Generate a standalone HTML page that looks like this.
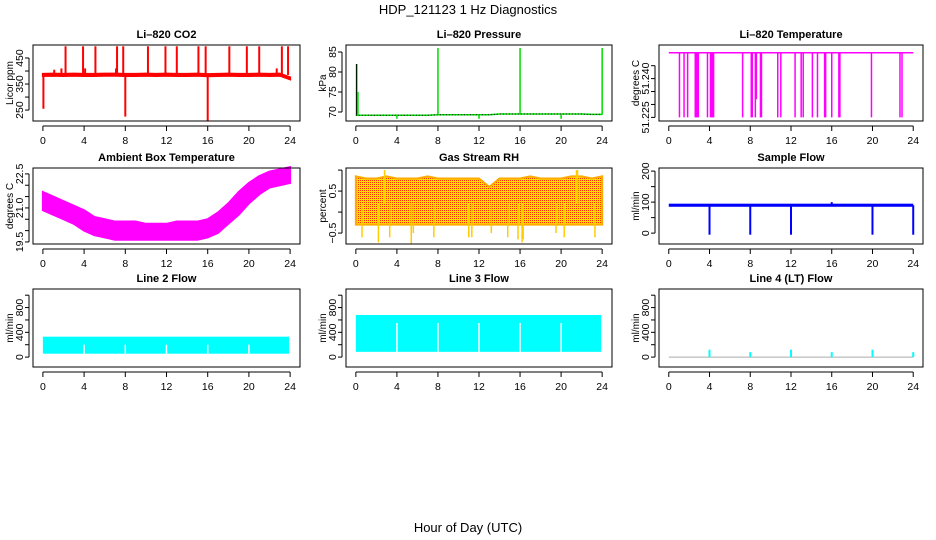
<!DOCTYPE html>
<html><head><meta charset="utf-8"><style>
body{margin:0;background:#fff}
svg{display:block;font-family:"Liberation Sans",sans-serif}
</style></head><body>
<svg id="c" width="936" height="540">
<defs><pattern id="rhpat" width="2" height="2" patternUnits="userSpaceOnUse"><rect width="2" height="2" fill="#ffdd00"/><rect width="1" height="1" fill="#ff3000"/></pattern></defs>
<text x="468" y="14" text-anchor="middle" font-size="13">HDP_121123  1 Hz Diagnostics</text>
<text x="468" y="532" text-anchor="middle" font-size="13">Hour of Day (UTC)</text>
</svg>
<script>
const hours = [0,1,2,3,4,5,6,7,8,9,10,11,12,13,14,15,16,17,18,19,20,21,22,23,24];
const xTicks = [0,4,8,12,16,20,24];
// CO2
const co2Base = [385,386,385,386,385,385,386,386,385,385,386,385,386,385,385,386,384,385,386,385,385,386,385,386,372];
const co2SpikeHours = [0.05,1.1,1.8,2.2,3.9,4.1,5.1,7.1,7.2,7.8,8.0,10.2,11.9,13.0,15.1,15.8,16.0,18.1,19.8,21.0,22.7,23.2,23.8];
const co2SpikeVals = [255,405,410,495,495,410,495,410,495,495,225,495,495,495,495,495,208,495,495,495,410,495,495];
// Pressure
const presBase = [69.2,69.2,69.2,69.2,69.2,69.2,69.2,69.2,69.3,69.3,69.3,69.3,69.3,69.3,69.5,69.5,69.5,69.5,69.5,69.5,69.5,69.5,69.5,69.4,69.4];
const presSpikeHours = [0.1,0.2,4,8,12,16,20,24];
const presSpikeVals = [82,75,68.3,86,68.3,86,68.3,86];
// Li-820 temperature
const tempBase = 51.250;
const tempDropHours = [1.05,1.5,1.85,2.6,2.7,2.8,2.9,3.8,4.1,4.2,4.3,4.4,7.25,8.1,8.2,8.5,8.6,9.0,9.1,10.7,11.0,12.4,13.0,13.2,14.1,14.6,15.3,15.4,16.0,16.7,16.8,19.9,22.7,22.9];
const tempDropVals = [51.225,51.225,51.225,51.225,51.225,51.225,51.225,51.225,51.225,51.225,51.225,51.225,51.225,51.225,51.225,51.225,51.232,51.225,51.225,51.225,51.225,51.225,51.225,51.225,51.225,51.225,51.225,51.225,51.225,51.225,51.225,51.225,51.225,51.225];
// Ambient box temperature
const ambLow = [20.9,20.7,20.5,20.3,20.0,19.8,19.7,19.6,19.6,19.6,19.6,19.6,19.6,19.6,19.6,19.6,19.7,19.9,20.3,20.7,21.2,21.6,21.9,22.0,22.1];
const ambHigh = [21.7,21.5,21.3,21.1,20.9,20.6,20.5,20.4,20.4,20.4,20.3,20.3,20.3,20.4,20.4,20.4,20.5,20.8,21.2,21.7,22.1,22.4,22.6,22.7,22.8];
// Gas stream RH
const rhLow = [-0.3,-0.3,-0.3,-0.3,-0.3,-0.3,-0.3,-0.3,-0.3,-0.3,-0.3,-0.3,-0.3,-0.3,-0.3,-0.3,-0.3,-0.3,-0.3,-0.3,-0.3,-0.3,-0.3,-0.3,-0.3];
const rhHigh = [0.85,0.8,0.8,0.85,0.8,0.8,0.8,0.85,0.8,0.8,0.8,0.8,0.8,0.6,0.8,0.8,0.8,0.85,0.8,0.8,0.8,0.85,0.85,0.8,0.85];
const rhSpikeHours = [0.6,2.2,2.8,3.3,5.4,5.6,7.6,11.0,11.3,13.2,14.8,15.8,16.2,16.3,19.5,20.3,21.5,21.6,23.3];
const rhSpikeVals = [-0.6,-0.72,1.0,-0.6,-0.75,-0.5,-0.6,-0.6,-0.6,-0.5,-0.6,-0.65,-0.72,-0.65,-0.5,-0.6,1.0,1.0,-0.6];
// Sample flow
const sfLow = 85, sfHigh = 95;
const sfSpikeHours = [4,8,12,16,20,24];
const sfSpikeVals = [-5,-5,-5,100,-5,-5];
// Line flows
const l2Low = 55, l2High = 330;
const l3Low = 85, l3High = 680;
const flowGapHours = [4,8,12,16,20];
const l4SpikeHours = [4,8,12,16,20,24];
const l4SpikeVals = [120,80,120,80,120,80];

const svg = document.getElementById('c');
const NS = 'http://www.w3.org/2000/svg';
function mk(tag, attrs, parent){const e=document.createElementNS(NS,tag);for(const k in attrs)e.setAttribute(k,attrs[k]);(parent||svg).appendChild(e);return e;}

function panel(o){
  const g = mk('g',{});
  
  
  const px0 = o.L + (o.R-o.L)*0.04/1.08, px1 = o.R - (o.R-o.L)*0.04/1.08;
  const X = h => px0 + (px1-px0)*h/24;
  const Y = v => o.B - (o.B-o.T)*(v-o.ymin)/(o.ymax-o.ymin);
  o.draw(g, X, Y);
  const box = mk('rect',{x:o.L,y:o.T,width:o.R-o.L,height:o.B-o.T,fill:'none',stroke:'#000','stroke-width':1},g);
  
  
  const t = mk('text',{x:(o.L+o.R)/2,y:o.T-7,'text-anchor':'middle','font-size':11,'font-weight':'bold'},g);
  t.textContent = o.title;
  
  
  // x axis
  mk('line',{x1:X(0),x2:X(24),y1:o.B+5,y2:o.B+5,stroke:'#000'},g);
  xTicks.forEach(h=>{
    mk('line',{x1:X(h),x2:X(h),y1:o.B+5,y2:o.B+10,stroke:'#000'},g);
    const tl = mk('text',{x:X(h),y:o.B+23,'text-anchor':'middle','font-size':10.5},g);
    tl.textContent = h;
    
    
  });
  // y axis
  const ax = o.L-4;
  mk('line',{x1:ax,x2:ax,y1:Y(o.yt[0]),y2:Y(o.yt[o.yt.length-1]),stroke:'#000'},g);
  o.yt.forEach((v,i)=>{
    mk('line',{x1:ax-4,x2:ax,y1:Y(v),y2:Y(v),stroke:'#000'},g);
    if(o.yl[i]!==''){
      const tl = mk('text',{x:0,y:0,'text-anchor':'middle','font-size':10.5,transform:`translate(${o.L-10},${Y(v)}) rotate(-90)`},g);
      tl.textContent = o.yl[i];
      
      
    }
  });
  const yt = mk('text',{x:0,y:0,'text-anchor':'middle','font-size':10,transform:`translate(${o.L-20},${(o.T+o.B)/2}) rotate(-90)`},g);
  yt.textContent = o.ylab;
  
  
}
function spikes(g,X,Y,hs,vs,base,color,w){hs.forEach((h,i)=>{const l=mk('line',{x1:X(h),x2:X(h),y1:Y(base),y2:Y(vs[i]),stroke:color,'stroke-width':w||1.5},g);});}
function band(g,X,Y,lo,hi,fill){
  let d='M'+hours.map((h,i)=>X(h)+','+Y(hi[i])).join('L');
  for(let i=hours.length-1;i>=0;i--) d+='L'+X(hours[i])+','+Y(lo[i]);
  const p=mk('path',{d:d+'Z',fill:fill,stroke:fill==='url(#rhpat)'?'#ffaa00':fill,'stroke-width':2},g);
  
}
const C1=[33,300],C2=[346,612],C3=[659,923];
const R1=[45,121],R2=[168,244],R3=[289,367];

panel({name:'co2-panel',title:'Li\u2013820 CO2',L:C1[0],R:C1[1],T:R1[0],B:R1[1],ymin:208,ymax:500,yt:[250,300,350,400,450],yl:['250','','350','','450'],ylab:'Licor ppm',
 draw:(g,X,Y)=>{
  const lo=co2Base.map(v=>v-4), hi=co2Base.map(v=>v+4);
  band(g,X,Y,lo,hi,'#ff0000');
  spikes(g,X,Y,co2SpikeHours,co2SpikeVals,385,'#ff0000',2);
 }});
panel({name:'pressure-panel',title:'Li\u2013820 Pressure',L:C2[0],R:C2[1],T:R1[0],B:R1[1],ymin:67.75,ymax:86.75,yt:[70,75,80,85],yl:['70','75','80','85'],ylab:'kPa',
 draw:(g,X,Y)=>{
  const p=mk('polyline',{points:hours.map((h,i)=>X(h)+','+Y(presBase[i])).join(' '),fill:'none',stroke:'#00dd00','stroke-width':1.5},g);
  
  mk('polyline',{points:hours.map((h,i)=>X(h)+','+Y(presBase[i])).join(' '),fill:'none',stroke:'#000','stroke-width':1,'stroke-dasharray':'1,2'},g);
  spikes(g,X,Y,presSpikeHours,presSpikeVals,69.3,'#00dd00',1.5);
  spikes(g,X,Y,[0.05],[82],69.3,'#000',1);
 }});
panel({name:'li820-temperature-panel',title:'Li\u2013820 Temperature',L:C3[0],R:C3[1],T:R1[0],B:R1[1],ymin:51.2236,ymax:51.2530,yt:[51.225,51.230,51.235,51.240,51.245],yl:['51.225','','','51.240',''],ylab:'degrees C',
 draw:(g,X,Y)=>{
  mk('line',{x1:X(0),x2:X(24),y1:Y(tempBase),y2:Y(tempBase),stroke:'#ff00ff','stroke-width':1.5},g);
  spikes(g,X,Y,tempDropHours,tempDropVals,tempBase,'#ff00ff',1.5);
 }});
panel({name:'ambient-temperature-panel',title:'Ambient Box Temperature',L:C1[0],R:C1[1],T:R2[0],B:R2[1],ymin:19.41,ymax:22.76,yt:[19.5,20,20.5,21,21.5,22,22.5],yl:['19.5','','','21.0','','','22.5'],ylab:'degrees C',
 draw:(g,X,Y)=>{band(g,X,Y,ambLow,ambHigh,'#ff00ff');}});
panel({name:'rh-panel',title:'Gas Stream RH',L:C2[0],R:C2[1],T:R2[0],B:R2[1],ymin:-0.76,ymax:1.05,yt:[-0.5,0,0.5,1],yl:['\u22120.5','','0.5',''],ylab:'percent',
 draw:(g,X,Y)=>{band(g,X,Y,rhLow,rhHigh,'url(#rhpat)');spikes(g,X,Y,rhSpikeHours,rhSpikeVals,0.2,'#ffcc00',1.5);}});
panel({name:'sample-flow-panel',title:'Sample Flow',L:C3[0],R:C3[1],T:R2[0],B:R2[1],ymin:-35,ymax:210,yt:[0,50,100,150,200],yl:['0','','100','','200'],ylab:'ml/min',
 draw:(g,X,Y)=>{
  const r=mk('rect',{x:X(0),y:Y(sfHigh),width:X(24)-X(0),height:Y(sfLow)-Y(sfHigh),fill:'#0000ff'},g);
  
  spikes(g,X,Y,sfSpikeHours,sfSpikeVals,90,'#0000ff',2);
 }});
function flowPanel(name,title,C,lo,hi){
 panel({name:name,title:title,L:C[0],R:C[1],T:R3[0],B:R3[1],ymin:-160,ymax:1100,yt:[0,200,400,600,800,1000],yl:['0','','400','','800',''],ylab:'ml/min',
 draw:(g,X,Y)=>{
  if(hi>0){
   const r=mk('rect',{x:X(0),y:Y(hi),width:X(23.9)-X(0),height:Y(lo)-Y(hi),fill:'#00ffff'},g);
   
   flowGapHours.forEach(h=>mk('line',{x1:X(h),x2:X(h),y1:Y(hi)+8,y2:Y(lo),stroke:'#fff','stroke-width':1.5},g));
  } else {
   mk('line',{x1:X(0),x2:X(24),y1:Y(0),y2:Y(0),stroke:'#aaaaaa','stroke-width':1},g);
   spikes(g,X,Y,l4SpikeHours,l4SpikeVals,0,'#00ffff',2);
  }
 }});
}
flowPanel('line2-flow-panel','Line 2 Flow',C1,l2Low,l2High);
flowPanel('line3-flow-panel','Line 3 Flow',C2,l3Low,l3High);
flowPanel('line4-flow-panel','Line 4 (LT) Flow',C3,0,0);
</script>
</body></html>
